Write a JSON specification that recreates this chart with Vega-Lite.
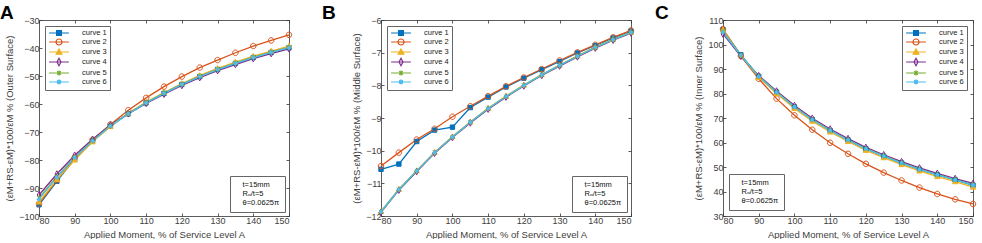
{
  "$schema": "https://vega.github.io/schema/vega-lite/v6.json",
  "padding": {"left": 0, "top": 4, "right": 0, "bottom": 0},
  "background": "white",
  "bounds": "flush",
  "spacing": 92,
  "config": {
    "font": "Liberation Sans",
    "view": {"stroke": null},
    "axis": {"grid": false, "domainColor": "#333", "tickColor": "#333", "domainWidth": 0.8, "tickWidth": 0.8, "labelColor": "#404040", "titleColor": "#404040", "labelFontSize": 9, "titleFontSize": 9.5, "titleFontWeight": "normal", "tickSize": -3, "labelPadding": 3, "titlePadding": 4, "labelFont": "Liberation Sans", "titleFont": "Liberation Sans"},
    "legend": {"labelFont": "Liberation Sans"}
  },
  "datasets": {
    "outer": [
      {"s":"curve 1","x":80,"y":-96.0},{"s":"curve 1","x":85,"y":-87.6},{"s":"curve 1","x":90,"y":-79.6},{"s":"curve 1","x":95,"y":-73.2},{"s":"curve 1","x":100,"y":-67.9},{"s":"curve 1","x":105,"y":-63.5},{"s":"curve 1","x":110,"y":-59.6},{"s":"curve 1","x":115,"y":-56.2},{"s":"curve 1","x":120,"y":-53.0},{"s":"curve 1","x":125,"y":-50.2},{"s":"curve 1","x":130,"y":-47.7},{"s":"curve 1","x":135,"y":-45.5},{"s":"curve 1","x":140,"y":-43.4},{"s":"curve 1","x":145,"y":-41.6},{"s":"curve 1","x":150,"y":-39.9},
      {"s":"curve 2","x":80,"y":-95.6},{"s":"curve 2","x":85,"y":-87.3},{"s":"curve 2","x":90,"y":-79.0},{"s":"curve 2","x":95,"y":-72.8},{"s":"curve 2","x":100,"y":-67.3},{"s":"curve 2","x":105,"y":-62.2},{"s":"curve 2","x":110,"y":-57.8},{"s":"curve 2","x":115,"y":-53.8},{"s":"curve 2","x":120,"y":-50.2},{"s":"curve 2","x":125,"y":-47.0},{"s":"curve 2","x":130,"y":-44.3},{"s":"curve 2","x":135,"y":-41.7},{"s":"curve 2","x":140,"y":-39.3},{"s":"curve 2","x":145,"y":-37.3},{"s":"curve 2","x":150,"y":-35.3},
      {"s":"curve 3","x":80,"y":-95.0},{"s":"curve 3","x":85,"y":-87.0},{"s":"curve 3","x":90,"y":-80.0},{"s":"curve 3","x":95,"y":-73.5},{"s":"curve 3","x":100,"y":-68.0},{"s":"curve 3","x":105,"y":-63.3},{"s":"curve 3","x":110,"y":-59.3},{"s":"curve 3","x":115,"y":-55.9},{"s":"curve 3","x":120,"y":-52.7},{"s":"curve 3","x":125,"y":-49.8},{"s":"curve 3","x":130,"y":-47.3},{"s":"curve 3","x":135,"y":-45.0},{"s":"curve 3","x":140,"y":-42.9},{"s":"curve 3","x":145,"y":-41.1},{"s":"curve 3","x":150,"y":-39.3},
      {"s":"curve 4","x":80,"y":-92.5},{"s":"curve 4","x":85,"y":-85.0},{"s":"curve 4","x":90,"y":-78.3},{"s":"curve 4","x":95,"y":-72.6},{"s":"curve 4","x":100,"y":-67.5},{"s":"curve 4","x":105,"y":-63.5},{"s":"curve 4","x":110,"y":-59.8},{"s":"curve 4","x":115,"y":-56.5},{"s":"curve 4","x":120,"y":-53.4},{"s":"curve 4","x":125,"y":-50.6},{"s":"curve 4","x":130,"y":-48.1},{"s":"curve 4","x":135,"y":-45.9},{"s":"curve 4","x":140,"y":-43.8},{"s":"curve 4","x":145,"y":-42.0},{"s":"curve 4","x":150,"y":-40.3},
      {"s":"curve 5","x":80,"y":-93.5},{"s":"curve 5","x":85,"y":-86.0},{"s":"curve 5","x":90,"y":-79.0},{"s":"curve 5","x":95,"y":-73.1},{"s":"curve 5","x":100,"y":-67.8},{"s":"curve 5","x":105,"y":-63.4},{"s":"curve 5","x":110,"y":-59.5},{"s":"curve 5","x":115,"y":-56.1},{"s":"curve 5","x":120,"y":-52.9},{"s":"curve 5","x":125,"y":-50.1},{"s":"curve 5","x":130,"y":-47.6},{"s":"curve 5","x":135,"y":-45.4},{"s":"curve 5","x":140,"y":-43.3},{"s":"curve 5","x":145,"y":-41.5},{"s":"curve 5","x":150,"y":-39.8},
      {"s":"curve 6","x":80,"y":-94.0},{"s":"curve 6","x":85,"y":-86.2},{"s":"curve 6","x":90,"y":-79.1},{"s":"curve 6","x":95,"y":-73.2},{"s":"curve 6","x":100,"y":-67.9},{"s":"curve 6","x":105,"y":-63.5},{"s":"curve 6","x":110,"y":-59.6},{"s":"curve 6","x":115,"y":-56.2},{"s":"curve 6","x":120,"y":-53.0},{"s":"curve 6","x":125,"y":-50.2},{"s":"curve 6","x":130,"y":-47.7},{"s":"curve 6","x":135,"y":-45.5},{"s":"curve 6","x":140,"y":-43.4},{"s":"curve 6","x":145,"y":-41.6},{"s":"curve 6","x":150,"y":-39.9}
    ],
    "middle": [
      {"s":"curve 1","x":80,"y":-10.57},{"s":"curve 1","x":85,"y":-10.41},{"s":"curve 1","x":90,"y":-9.72},{"s":"curve 1","x":95,"y":-9.37},{"s":"curve 1","x":100,"y":-9.28},{"s":"curve 1","x":105,"y":-8.68},{"s":"curve 1","x":110,"y":-8.36},{"s":"curve 1","x":115,"y":-8.05},{"s":"curve 1","x":120,"y":-7.78},{"s":"curve 1","x":125,"y":-7.52},{"s":"curve 1","x":130,"y":-7.27},{"s":"curve 1","x":135,"y":-7.01},{"s":"curve 1","x":140,"y":-6.78},{"s":"curve 1","x":145,"y":-6.55},{"s":"curve 1","x":150,"y":-6.34},
      {"s":"curve 2","x":80,"y":-10.47},{"s":"curve 2","x":85,"y":-10.06},{"s":"curve 2","x":90,"y":-9.66},{"s":"curve 2","x":95,"y":-9.33},{"s":"curve 2","x":100,"y":-8.96},{"s":"curve 2","x":105,"y":-8.64},{"s":"curve 2","x":110,"y":-8.33},{"s":"curve 2","x":115,"y":-8.03},{"s":"curve 2","x":120,"y":-7.76},{"s":"curve 2","x":125,"y":-7.50},{"s":"curve 2","x":130,"y":-7.24},{"s":"curve 2","x":135,"y":-6.99},{"s":"curve 2","x":140,"y":-6.76},{"s":"curve 2","x":145,"y":-6.53},{"s":"curve 2","x":150,"y":-6.32},
      {"s":"curve 3","x":80,"y":-11.86},{"s":"curve 3","x":85,"y":-11.18},{"s":"curve 3","x":90,"y":-10.61},{"s":"curve 3","x":95,"y":-10.05},{"s":"curve 3","x":100,"y":-9.57},{"s":"curve 3","x":105,"y":-9.12},{"s":"curve 3","x":110,"y":-8.70},{"s":"curve 3","x":115,"y":-8.33},{"s":"curve 3","x":120,"y":-7.99},{"s":"curve 3","x":125,"y":-7.67},{"s":"curve 3","x":130,"y":-7.38},{"s":"curve 3","x":135,"y":-7.10},{"s":"curve 3","x":140,"y":-6.83},{"s":"curve 3","x":145,"y":-6.59},{"s":"curve 3","x":150,"y":-6.37},
      {"s":"curve 4","x":80,"y":-11.89},{"s":"curve 4","x":85,"y":-11.21},{"s":"curve 4","x":90,"y":-10.64},{"s":"curve 4","x":95,"y":-10.08},{"s":"curve 4","x":100,"y":-9.60},{"s":"curve 4","x":105,"y":-9.15},{"s":"curve 4","x":110,"y":-8.73},{"s":"curve 4","x":115,"y":-8.36},{"s":"curve 4","x":120,"y":-8.02},{"s":"curve 4","x":125,"y":-7.70},{"s":"curve 4","x":130,"y":-7.41},{"s":"curve 4","x":135,"y":-7.13},{"s":"curve 4","x":140,"y":-6.86},{"s":"curve 4","x":145,"y":-6.62},{"s":"curve 4","x":150,"y":-6.40},
      {"s":"curve 5","x":80,"y":-11.87},{"s":"curve 5","x":85,"y":-11.19},{"s":"curve 5","x":90,"y":-10.62},{"s":"curve 5","x":95,"y":-10.06},{"s":"curve 5","x":100,"y":-9.58},{"s":"curve 5","x":105,"y":-9.13},{"s":"curve 5","x":110,"y":-8.71},{"s":"curve 5","x":115,"y":-8.34},{"s":"curve 5","x":120,"y":-8.00},{"s":"curve 5","x":125,"y":-7.68},{"s":"curve 5","x":130,"y":-7.39},{"s":"curve 5","x":135,"y":-7.11},{"s":"curve 5","x":140,"y":-6.84},{"s":"curve 5","x":145,"y":-6.60},{"s":"curve 5","x":150,"y":-6.38},
      {"s":"curve 6","x":80,"y":-11.87},{"s":"curve 6","x":85,"y":-11.19},{"s":"curve 6","x":90,"y":-10.62},{"s":"curve 6","x":95,"y":-10.06},{"s":"curve 6","x":100,"y":-9.58},{"s":"curve 6","x":105,"y":-9.13},{"s":"curve 6","x":110,"y":-8.71},{"s":"curve 6","x":115,"y":-8.34},{"s":"curve 6","x":120,"y":-8.00},{"s":"curve 6","x":125,"y":-7.68},{"s":"curve 6","x":130,"y":-7.39},{"s":"curve 6","x":135,"y":-7.11},{"s":"curve 6","x":140,"y":-6.84},{"s":"curve 6","x":145,"y":-6.60},{"s":"curve 6","x":150,"y":-6.38}
    ],
    "inner": [
      {"s":"curve 1","x":80,"y":106.0},{"s":"curve 1","x":85,"y":95.8},{"s":"curve 1","x":90,"y":87.0},{"s":"curve 1","x":95,"y":80.5},{"s":"curve 1","x":100,"y":74.5},{"s":"curve 1","x":105,"y":69.3},{"s":"curve 1","x":110,"y":64.9},{"s":"curve 1","x":115,"y":61.0},{"s":"curve 1","x":120,"y":57.4},{"s":"curve 1","x":125,"y":54.4},{"s":"curve 1","x":130,"y":51.6},{"s":"curve 1","x":135,"y":49.0},{"s":"curve 1","x":140,"y":46.8},{"s":"curve 1","x":145,"y":44.7},{"s":"curve 1","x":150,"y":42.5},
      {"s":"curve 2","x":80,"y":106.3},{"s":"curve 2","x":85,"y":95.3},{"s":"curve 2","x":90,"y":86.0},{"s":"curve 2","x":95,"y":77.9},{"s":"curve 2","x":100,"y":71.1},{"s":"curve 2","x":105,"y":65.2},{"s":"curve 2","x":110,"y":59.9},{"s":"curve 2","x":115,"y":55.4},{"s":"curve 2","x":120,"y":51.3},{"s":"curve 2","x":125,"y":47.7},{"s":"curve 2","x":130,"y":44.5},{"s":"curve 2","x":135,"y":41.6},{"s":"curve 2","x":140,"y":39.0},{"s":"curve 2","x":145,"y":36.8},{"s":"curve 2","x":150,"y":34.9},
      {"s":"curve 3","x":80,"y":106.0},{"s":"curve 3","x":85,"y":95.4},{"s":"curve 3","x":90,"y":86.6},{"s":"curve 3","x":95,"y":80.0},{"s":"curve 3","x":100,"y":73.9},{"s":"curve 3","x":105,"y":68.7},{"s":"curve 3","x":110,"y":64.3},{"s":"curve 3","x":115,"y":60.4},{"s":"curve 3","x":120,"y":56.8},{"s":"curve 3","x":125,"y":53.8},{"s":"curve 3","x":130,"y":51.0},{"s":"curve 3","x":135,"y":48.4},{"s":"curve 3","x":140,"y":46.1},{"s":"curve 3","x":145,"y":44.0},{"s":"curve 3","x":150,"y":41.8},
      {"s":"curve 4","x":80,"y":104.3},{"s":"curve 4","x":85,"y":95.2},{"s":"curve 4","x":90,"y":87.3},{"s":"curve 4","x":95,"y":81.0},{"s":"curve 4","x":100,"y":75.1},{"s":"curve 4","x":105,"y":69.9},{"s":"curve 4","x":110,"y":65.5},{"s":"curve 4","x":115,"y":61.6},{"s":"curve 4","x":120,"y":58.0},{"s":"curve 4","x":125,"y":55.0},{"s":"curve 4","x":130,"y":52.2},{"s":"curve 4","x":135,"y":49.6},{"s":"curve 4","x":140,"y":47.4},{"s":"curve 4","x":145,"y":45.3},{"s":"curve 4","x":150,"y":43.3},
      {"s":"curve 5","x":80,"y":105.3},{"s":"curve 5","x":85,"y":95.6},{"s":"curve 5","x":90,"y":87.0},{"s":"curve 5","x":95,"y":80.6},{"s":"curve 5","x":100,"y":74.6},{"s":"curve 5","x":105,"y":69.4},{"s":"curve 5","x":110,"y":65.0},{"s":"curve 5","x":115,"y":61.1},{"s":"curve 5","x":120,"y":57.5},{"s":"curve 5","x":125,"y":54.5},{"s":"curve 5","x":130,"y":51.7},{"s":"curve 5","x":135,"y":49.1},{"s":"curve 5","x":140,"y":46.9},{"s":"curve 5","x":145,"y":44.8},{"s":"curve 5","x":150,"y":42.7},
      {"s":"curve 6","x":80,"y":105.0},{"s":"curve 6","x":85,"y":95.6},{"s":"curve 6","x":90,"y":86.9},{"s":"curve 6","x":95,"y":80.5},{"s":"curve 6","x":100,"y":74.5},{"s":"curve 6","x":105,"y":69.3},{"s":"curve 6","x":110,"y":64.9},{"s":"curve 6","x":115,"y":61.0},{"s":"curve 6","x":120,"y":57.4},{"s":"curve 6","x":125,"y":54.4},{"s":"curve 6","x":130,"y":51.6},{"s":"curve 6","x":135,"y":49.0},{"s":"curve 6","x":140,"y":46.8},{"s":"curve 6","x":145,"y":44.7},{"s":"curve 6","x":150,"y":42.6}
    ],
    "notes": [
      {"note": "t=15mm"}, {"note": "Rₒ/t=5"}, {"note": "θ=0.0625π"}
    ]
  },
  "hconcat": [
    {
      "width": 250, "height": 196,
      "title": {"text": "A", "anchor": "start", "frame": "group", "dx": -39, "offset": -22, "fontSize": 19, "fontWeight": "bold", "color": "#000", "font": "Liberation Sans", "baseline": "alphabetic"},
      "data": {"name": "outer"},
      "resolve": {"axis": {"x": "independent", "y": "independent"}},
      "layer": [
        {
          "mark": {"type": "line", "strokeWidth": 1.3},
          "encoding": {
            "x": {"field": "x", "type": "quantitative", "scale": {"domain": [80, 150], "nice": false}, "axis": {"values": [80, 90, 100, 110, 120, 130, 140, 150], "title": "Applied Moment, % of Service Level A"}},
            "y": {"field": "y", "type": "quantitative", "scale": {"domain": [-100, -30], "nice": false}, "axis": {"values": [-100, -90, -80, -70, -60, -50, -40, -30], "title": "(εM+RS-εM)*100/εM % (Outer Surface)"}},
            "stroke": {"field": "s", "type": "nominal", "scale": {"domain": ["curve 1", "curve 2", "curve 3", "curve 4", "curve 5", "curve 6"], "range": ["#0072BD", "#D95319", "#EDB120", "#7E2F8E", "#77AC30", "#4DBEEE"]},
              "legend": {"title": null, "orient": "top-left", "offset": 6, "padding": 3, "rowPadding": -2, "symbolOffset": 7, "labelOffset": 19, "labelFontSize": 7.5, "labelColor": "#222", "strokeColor": "#666", "fillColor": "white", "symbolSize": 36, "symbolStrokeWidth": 1.2,
                "encode": {"symbols": {"update": {
                  "shape": {"signal": "datum.value === 'curve 1' ? 'M-3.3,0H3.3M-0.8,-0.8H0.8V0.8H-0.8Z' : datum.value === 'curve 2' ? 'M-3.3,0H3.3M-1,0A1,1 0 1,0 1,0A1,1 0 1,0 -1,0Z' : datum.value === 'curve 3' ? 'M-3.3,0H3.3M0,-1L0.95,0.75H-0.95Z' : datum.value === 'curve 4' ? 'M-3.3,0H3.3M0,-1.25L0.65,0L0,1.25L-0.65,0Z' : datum.value === 'curve 5' ? 'M-3.3,0H3.3M-0.6,-0.6L0.6,0.6M-0.6,0.6L0.6,-0.6M0,-0.8V0.8' : 'M-3.3,0H3.3M-0.6,0A0.6,0.6 0 1,0 0.6,0A0.6,0.6 0 1,0 -0.6,0Z'"},
                  "fill": {"signal": "datum.value === 'curve 1' ? '#0072BD' : datum.value === 'curve 3' ? '#EDB120' : datum.value === 'curve 5' ? '#77AC30' : datum.value === 'curve 6' ? '#4DBEEE' : 'transparent'"},
                  "stroke": {"signal": "datum.value === 'curve 1' ? '#0072BD' : datum.value === 'curve 2' ? '#D95319' : datum.value === 'curve 3' ? '#EDB120' : datum.value === 'curve 4' ? '#7E2F8E' : datum.value === 'curve 5' ? '#77AC30' : '#4DBEEE'"}
                }}}}}
          }
        },
        {
          "mark": {"type": "point", "size": 30, "strokeWidth": 1, "opacity": 1},
          "encoding": {
            "x": {"field": "x", "type": "quantitative", "scale": {"domain": [80, 150], "nice": false}, "axis": {"orient": "top", "labels": false, "title": null, "values": [80, 90, 100, 110, 120, 130, 140, 150]}},
            "y": {"field": "y", "type": "quantitative", "scale": {"domain": [-100, -30], "nice": false}, "axis": {"orient": "right", "labels": false, "title": null, "values": [-100, -90, -80, -70, -60, -50, -40, -30]}},
            "stroke": {"field": "s", "type": "nominal", "legend": null},
            "shape": {"field": "s", "type": "nominal", "legend": null, "scale": {"domain": ["curve 1", "curve 2", "curve 3", "curve 4", "curve 5", "curve 6"], "range": ["M-0.8,-0.8H0.8V0.8H-0.8Z", "M-1,0A1,1 0 1,0 1,0A1,1 0 1,0 -1,0Z", "M0,-1L0.95,0.75H-0.95Z", "M0,-1.2L0.65,0L0,1.2L-0.65,0Z", "M-0.7,-0.7L0.7,0.7M-0.7,0.7L0.7,-0.7M0,-0.9V0.9", "M-0.6,0A0.6,0.6 0 1,0 0.6,0A0.6,0.6 0 1,0 -0.6,0Z"]}},
            "fill": {"field": "s", "type": "nominal", "legend": null, "scale": {"domain": ["curve 1", "curve 2", "curve 3", "curve 4", "curve 5", "curve 6"], "range": ["#0072BD", "transparent", "#EDB120", "transparent", "#77AC30", "#4DBEEE"]}}
          }
        },
        {
          "data": {"name": "notes"},
          "mark": {"type": "point", "opacity": 0},
          "encoding": {
            "strokeDash": {"field": "note", "type": "nominal", "scale": {"domain": ["t=15mm", "Rₒ/t=5", "θ=0.0625π"], "range": [[1, 0], [1, 0], [1, 0]]},
              "legend": {"title": null, "orient": "bottom-right", "offset": 4, "padding": 5, "rowPadding": 0, "labelFontSize": 7.5, "labelColor": "#111", "strokeColor": "#666", "fillColor": "white", "symbolSize": 0, "symbolOpacity": 0, "labelOffset": 0}}
          }
        }
      ]
    },
    {
      "width": 250, "height": 196,
      "title": {"text": "B", "anchor": "start", "frame": "group", "dx": -59, "offset": -22, "fontSize": 19, "fontWeight": "bold", "color": "#000", "font": "Liberation Sans", "baseline": "alphabetic"},
      "data": {"name": "middle"},
      "resolve": {"axis": {"x": "independent", "y": "independent"}},
      "layer": [
        {
          "mark": {"type": "line", "strokeWidth": 1.3},
          "encoding": {
            "x": {"field": "x", "type": "quantitative", "scale": {"domain": [80, 150], "nice": false}, "axis": {"values": [80, 90, 100, 110, 120, 130, 140, 150], "title": "Applied Moment, % of Service Level A"}},
            "y": {"field": "y", "type": "quantitative", "scale": {"domain": [-12, -6], "nice": false}, "axis": {"values": [-12, -11, -10, -9, -8, -7, -6], "title": "(εM+RS-εM)*100/εM % (Middle Surface)"}},
            "stroke": {"field": "s", "type": "nominal", "scale": {"domain": ["curve 1", "curve 2", "curve 3", "curve 4", "curve 5", "curve 6"], "range": ["#0072BD", "#D95319", "#EDB120", "#7E2F8E", "#77AC30", "#4DBEEE"]},
              "legend": {"title": null, "orient": "top-left", "offset": 6, "padding": 3, "rowPadding": -2, "symbolOffset": 7, "labelOffset": 19, "labelFontSize": 7.5, "labelColor": "#222", "strokeColor": "#666", "fillColor": "white", "symbolSize": 36, "symbolStrokeWidth": 1.2,
                "encode": {"symbols": {"update": {
                  "shape": {"signal": "datum.value === 'curve 1' ? 'M-3.3,0H3.3M-0.8,-0.8H0.8V0.8H-0.8Z' : datum.value === 'curve 2' ? 'M-3.3,0H3.3M-1,0A1,1 0 1,0 1,0A1,1 0 1,0 -1,0Z' : datum.value === 'curve 3' ? 'M-3.3,0H3.3M0,-1L0.95,0.75H-0.95Z' : datum.value === 'curve 4' ? 'M-3.3,0H3.3M0,-1.25L0.65,0L0,1.25L-0.65,0Z' : datum.value === 'curve 5' ? 'M-3.3,0H3.3M-0.6,-0.6L0.6,0.6M-0.6,0.6L0.6,-0.6M0,-0.8V0.8' : 'M-3.3,0H3.3M-0.6,0A0.6,0.6 0 1,0 0.6,0A0.6,0.6 0 1,0 -0.6,0Z'"},
                  "fill": {"signal": "datum.value === 'curve 1' ? '#0072BD' : datum.value === 'curve 3' ? '#EDB120' : datum.value === 'curve 5' ? '#77AC30' : datum.value === 'curve 6' ? '#4DBEEE' : 'transparent'"},
                  "stroke": {"signal": "datum.value === 'curve 1' ? '#0072BD' : datum.value === 'curve 2' ? '#D95319' : datum.value === 'curve 3' ? '#EDB120' : datum.value === 'curve 4' ? '#7E2F8E' : datum.value === 'curve 5' ? '#77AC30' : '#4DBEEE'"}
                }}}}}
          }
        },
        {
          "mark": {"type": "point", "size": 30, "strokeWidth": 1, "opacity": 1},
          "encoding": {
            "x": {"field": "x", "type": "quantitative", "scale": {"domain": [80, 150], "nice": false}, "axis": {"orient": "top", "labels": false, "title": null, "values": [80, 90, 100, 110, 120, 130, 140, 150]}},
            "y": {"field": "y", "type": "quantitative", "scale": {"domain": [-12, -6], "nice": false}, "axis": {"orient": "right", "labels": false, "title": null, "values": [-12, -11, -10, -9, -8, -7, -6]}},
            "stroke": {"field": "s", "type": "nominal", "legend": null},
            "shape": {"field": "s", "type": "nominal", "legend": null, "scale": {"domain": ["curve 1", "curve 2", "curve 3", "curve 4", "curve 5", "curve 6"], "range": ["M-0.8,-0.8H0.8V0.8H-0.8Z", "M-1,0A1,1 0 1,0 1,0A1,1 0 1,0 -1,0Z", "M0,-1L0.95,0.75H-0.95Z", "M0,-1.2L0.65,0L0,1.2L-0.65,0Z", "M-0.7,-0.7L0.7,0.7M-0.7,0.7L0.7,-0.7M0,-0.9V0.9", "M-0.6,0A0.6,0.6 0 1,0 0.6,0A0.6,0.6 0 1,0 -0.6,0Z"]}},
            "fill": {"field": "s", "type": "nominal", "legend": null, "scale": {"domain": ["curve 1", "curve 2", "curve 3", "curve 4", "curve 5", "curve 6"], "range": ["#0072BD", "transparent", "#EDB120", "transparent", "#77AC30", "#4DBEEE"]}}
          }
        },
        {
          "data": {"name": "notes"},
          "mark": {"type": "point", "opacity": 0},
          "encoding": {
            "strokeDash": {"field": "note", "type": "nominal", "scale": {"domain": ["t=15mm", "Rₒ/t=5", "θ=0.0625π"], "range": [[1, 0], [1, 0], [1, 0]]},
              "legend": {"title": null, "orient": "bottom-right", "offset": 4, "padding": 5, "rowPadding": 0, "labelFontSize": 7.5, "labelColor": "#111", "strokeColor": "#666", "fillColor": "white", "symbolSize": 0, "symbolOpacity": 0, "labelOffset": 0}}
          }
        }
      ]
    },
    {
      "width": 250, "height": 196,
      "title": {"text": "C", "anchor": "start", "frame": "group", "dx": -68, "offset": -22, "fontSize": 19, "fontWeight": "bold", "color": "#000", "font": "Liberation Sans", "baseline": "alphabetic"},
      "data": {"name": "inner"},
      "resolve": {"axis": {"x": "independent", "y": "independent"}},
      "layer": [
        {
          "mark": {"type": "line", "strokeWidth": 1.3},
          "encoding": {
            "x": {"field": "x", "type": "quantitative", "scale": {"domain": [80, 150], "nice": false}, "axis": {"values": [80, 90, 100, 110, 120, 130, 140, 150], "title": "Applied Moment, % of Service Level A"}},
            "y": {"field": "y", "type": "quantitative", "scale": {"domain": [30, 110], "nice": false}, "axis": {"values": [30, 40, 50, 60, 70, 80, 90, 100, 110], "title": "(εM+RS-εM)*100/εM % (Inner Surface)"}},
            "stroke": {"field": "s", "type": "nominal", "scale": {"domain": ["curve 1", "curve 2", "curve 3", "curve 4", "curve 5", "curve 6"], "range": ["#0072BD", "#D95319", "#EDB120", "#7E2F8E", "#77AC30", "#4DBEEE"]},
              "legend": {"title": null, "orient": "top-right", "offset": 6, "padding": 3, "rowPadding": -2, "symbolOffset": 7, "labelOffset": 19, "labelFontSize": 7.5, "labelColor": "#222", "strokeColor": "#666", "fillColor": "white", "symbolSize": 36, "symbolStrokeWidth": 1.2,
                "encode": {"symbols": {"update": {
                  "shape": {"signal": "datum.value === 'curve 1' ? 'M-3.3,0H3.3M-0.8,-0.8H0.8V0.8H-0.8Z' : datum.value === 'curve 2' ? 'M-3.3,0H3.3M-1,0A1,1 0 1,0 1,0A1,1 0 1,0 -1,0Z' : datum.value === 'curve 3' ? 'M-3.3,0H3.3M0,-1L0.95,0.75H-0.95Z' : datum.value === 'curve 4' ? 'M-3.3,0H3.3M0,-1.25L0.65,0L0,1.25L-0.65,0Z' : datum.value === 'curve 5' ? 'M-3.3,0H3.3M-0.6,-0.6L0.6,0.6M-0.6,0.6L0.6,-0.6M0,-0.8V0.8' : 'M-3.3,0H3.3M-0.6,0A0.6,0.6 0 1,0 0.6,0A0.6,0.6 0 1,0 -0.6,0Z'"},
                  "fill": {"signal": "datum.value === 'curve 1' ? '#0072BD' : datum.value === 'curve 3' ? '#EDB120' : datum.value === 'curve 5' ? '#77AC30' : datum.value === 'curve 6' ? '#4DBEEE' : 'transparent'"},
                  "stroke": {"signal": "datum.value === 'curve 1' ? '#0072BD' : datum.value === 'curve 2' ? '#D95319' : datum.value === 'curve 3' ? '#EDB120' : datum.value === 'curve 4' ? '#7E2F8E' : datum.value === 'curve 5' ? '#77AC30' : '#4DBEEE'"}
                }}}}}
          }
        },
        {
          "mark": {"type": "point", "size": 30, "strokeWidth": 1, "opacity": 1},
          "encoding": {
            "x": {"field": "x", "type": "quantitative", "scale": {"domain": [80, 150], "nice": false}, "axis": {"orient": "top", "labels": false, "title": null, "values": [80, 90, 100, 110, 120, 130, 140, 150]}},
            "y": {"field": "y", "type": "quantitative", "scale": {"domain": [30, 110], "nice": false}, "axis": {"orient": "right", "labels": false, "title": null, "values": [30, 40, 50, 60, 70, 80, 90, 100, 110]}},
            "stroke": {"field": "s", "type": "nominal", "legend": null},
            "shape": {"field": "s", "type": "nominal", "legend": null, "scale": {"domain": ["curve 1", "curve 2", "curve 3", "curve 4", "curve 5", "curve 6"], "range": ["M-0.8,-0.8H0.8V0.8H-0.8Z", "M-1,0A1,1 0 1,0 1,0A1,1 0 1,0 -1,0Z", "M0,-1L0.95,0.75H-0.95Z", "M0,-1.2L0.65,0L0,1.2L-0.65,0Z", "M-0.7,-0.7L0.7,0.7M-0.7,0.7L0.7,-0.7M0,-0.9V0.9", "M-0.6,0A0.6,0.6 0 1,0 0.6,0A0.6,0.6 0 1,0 -0.6,0Z"]}},
            "fill": {"field": "s", "type": "nominal", "legend": null, "scale": {"domain": ["curve 1", "curve 2", "curve 3", "curve 4", "curve 5", "curve 6"], "range": ["#0072BD", "transparent", "#EDB120", "transparent", "#77AC30", "#4DBEEE"]}}
          }
        },
        {
          "data": {"name": "notes"},
          "mark": {"type": "point", "opacity": 0},
          "encoding": {
            "strokeDash": {"field": "note", "type": "nominal", "scale": {"domain": ["t=15mm", "Rₒ/t=5", "θ=0.0625π"], "range": [[1, 0], [1, 0], [1, 0]]},
              "legend": {"title": null, "orient": "bottom-left", "offset": 6, "padding": 5, "rowPadding": 0, "labelFontSize": 7.5, "labelColor": "#111", "strokeColor": "#666", "fillColor": "white", "symbolSize": 0, "symbolOpacity": 0, "labelOffset": 0}}
          }
        }
      ]
    }
  ]
}
